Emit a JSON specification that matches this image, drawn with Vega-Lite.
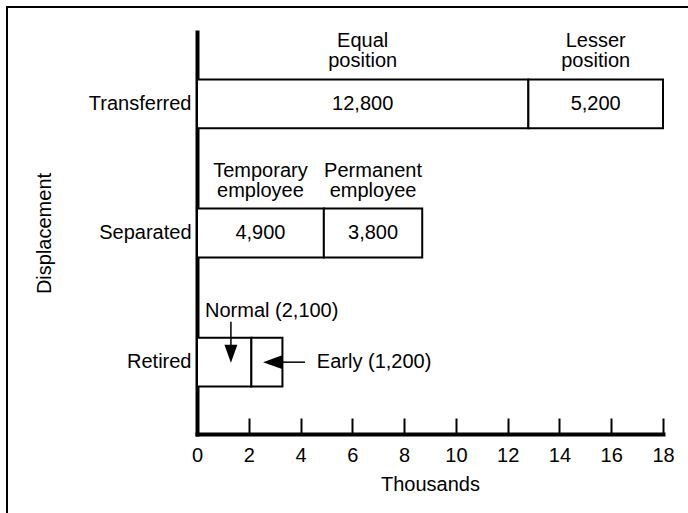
{
  "$schema": "https://vega.github.io/schema/vega-lite/v6.json",
  "autosize": "none",
  "padding": {"left": 7, "top": 7, "right": 0, "bottom": 0},
  "width": 681,
  "height": 506,
  "background": "white",
  "config": {
    "view": {"stroke": "black", "strokeWidth": 2, "strokeDash": [681, 1187, 506]},
    "font": "Liberation Sans",
    "text": {"font": "Liberation Sans", "fontSize": 20, "color": "black"}
  },
  "data": {
    "values": [
      {"category": "Transferred", "segment": "Equal position", "order": 1, "value": 12.8, "label": "12,800", "heading": "Equal\nposition", "note": ""},
      {"category": "Transferred", "segment": "Lesser position", "order": 2, "value": 5.2, "label": "5,200", "heading": "Lesser\nposition", "note": ""},
      {"category": "Separated", "segment": "Temporary employee", "order": 1, "value": 4.9, "label": "4,900", "heading": "Temporary\nemployee", "note": ""},
      {"category": "Separated", "segment": "Permanent employee", "order": 2, "value": 3.8, "label": "3,800", "heading": "Permanent\nemployee", "note": ""},
      {"category": "Retired", "segment": "Normal", "order": 1, "value": 2.1, "label": "", "heading": "", "note": "Normal (2,100)"},
      {"category": "Retired", "segment": "Early", "order": 2, "value": 1.2, "label": "", "heading": "", "note": "Early (1,200)"}
    ]
  },
  "transform": [
    {"stack": "value", "groupby": ["category"], "sort": [{"field": "order", "order": "ascending"}], "as": ["x0", "x1"]},
    {"calculate": "(datum.x0 + datum.x1) / 2", "as": "mid"}
  ],
  "encoding": {
    "y": {
      "field": "category",
      "type": "nominal",
      "sort": ["Transferred", "Separated", "Retired"],
      "scale": {"range": [25, 427], "paddingInner": 0.6216, "paddingOuter": 0.3668},
      "axis": {
        "title": "Displacement",
        "orient": "left",
        "offset": -190,
        "domainColor": "black",
        "domainWidth": 4,
        "domainCap": "square",
        "ticks": false,
        "labelPadding": 6,
        "labelFont": "Liberation Sans",
        "labelFontSize": 20,
        "labelColor": "black",
        "titleFont": "Liberation Sans",
        "titleFontSize": 20,
        "titleFontWeight": "normal",
        "titleColor": "black",
        "titlePadding": 34
      }
    }
  },
  "layer": [
    {
      "mark": {"type": "bar", "fill": "white", "stroke": "black", "strokeWidth": 2},
      "encoding": {
        "x": {
          "field": "x0",
          "type": "quantitative",
          "title": "Thousands",
          "scale": {"domain": [0, 18], "range": [190, 656], "nice": false, "zero": true},
          "axis": {
            "orient": "bottom",
            "offset": -79,
            "values": [0, 2, 4, 6, 8, 10, 12, 14, 16, 18],
            "grid": false,
            "domainColor": "black",
            "domainWidth": 4,
            "domainCap": "square",
            "tickColor": "black",
            "tickWidth": 2,
            "tickSize": -16,
            "labelPadding": 27,
            "labelFlush": false,
            "labelOverlap": false,
            "labelFont": "Liberation Sans",
            "labelFontSize": 20,
            "labelColor": "black",
            "titleFont": "Liberation Sans",
            "titleFontSize": 20,
            "titleFontWeight": "normal",
            "titleColor": "black",
            "titlePadding": 9
          }
        },
        "x2": {"field": "x1"}
      }
    },
    {
      "transform": [{"filter": "datum.label != ''"}],
      "mark": {"type": "text", "fontSize": 20, "align": "center", "baseline": "middle"},
      "encoding": {
        "x": {"field": "mid", "type": "quantitative", "title": "Thousands"},
        "text": {"field": "label"}
      }
    },
    {
      "transform": [{"filter": "datum.heading != ''"}],
      "mark": {"type": "text", "fontSize": 20, "align": "center", "baseline": "alphabetic", "dy": -56.5, "lineBreak": "\n", "lineHeight": 20},
      "encoding": {
        "x": {"field": "mid", "type": "quantitative", "title": "Thousands"},
        "text": {"field": "heading"}
      }
    },
    {
      "transform": [{"filter": "datum.segment == 'Normal'"}],
      "mark": {"type": "text", "fontSize": 20, "align": "left", "baseline": "alphabetic", "dy": -45.5},
      "encoding": {
        "x": {"datum": 0.31, "type": "quantitative"},
        "text": {"field": "note"}
      }
    },
    {
      "transform": [{"filter": "datum.segment == 'Normal'"}],
      "mark": {"type": "tick", "orient": "vertical", "color": "black", "opacity": 1, "thickness": 1.5, "size": 26, "yOffset": -27.5},
      "encoding": {
        "x": {"datum": 1.31, "type": "quantitative"}
      }
    },
    {
      "transform": [{"filter": "datum.segment == 'Normal'"}],
      "mark": {"type": "point", "shape": "M-0.72,-1L0.72,-1L0,1Z", "size": 324, "filled": true, "color": "black", "opacity": 1, "strokeWidth": 0, "yOffset": -8.5},
      "encoding": {
        "x": {"datum": 1.31, "type": "quantitative"}
      }
    },
    {
      "transform": [{"filter": "datum.segment == 'Early'"}],
      "mark": {"type": "rule", "color": "black", "strokeWidth": 1.5},
      "encoding": {
        "x": {"datum": 3.0, "type": "quantitative"},
        "x2": {"datum": 4.17}
      }
    },
    {
      "transform": [{"filter": "datum.segment == 'Early'"}],
      "mark": {"type": "point", "shape": "M-1,0L1,-0.72L1,0.72Z", "size": 361, "filled": true, "color": "black", "opacity": 1, "strokeWidth": 0},
      "encoding": {
        "x": {"datum": 2.92, "type": "quantitative"}
      }
    },
    {
      "transform": [{"filter": "datum.segment == 'Early'"}],
      "mark": {"type": "text", "fontSize": 20, "align": "left", "baseline": "middle"},
      "encoding": {
        "x": {"datum": 4.63, "type": "quantitative"},
        "text": {"field": "note"}
      }
    }
  ]
}
